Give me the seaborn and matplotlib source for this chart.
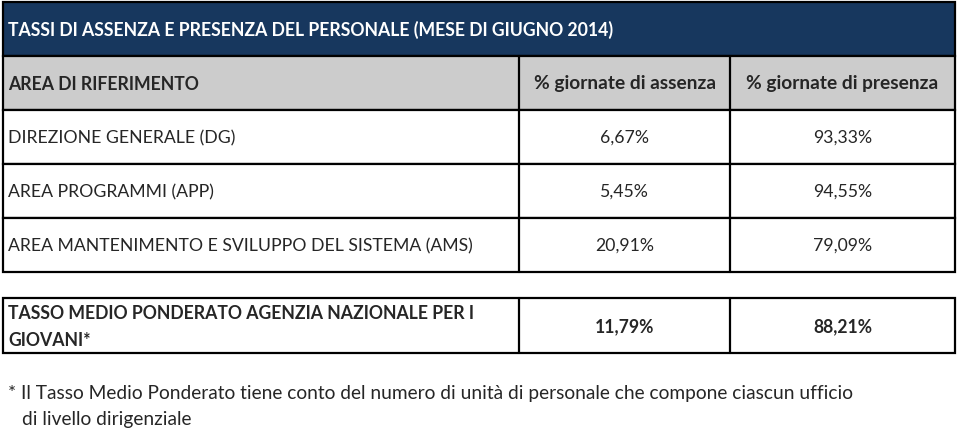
import numpy as np
import pandas as pd
import matplotlib.pyplot as plt
import seaborn as sns
from matplotlib.patches import Rectangle

# table content
title = "TASSI DI ASSENZA E PRESENZA DEL PERSONALE (MESE DI GIUGNO 2014)"
header = ["AREA DI RIFERIMENTO", "% giornate di assenza", "% giornate di presenza"]
areas = [
    "DIREZIONE GENERALE (DG)",
    "AREA PROGRAMMI (APP)",
    "AREA MANTENIMENTO E SVILUPPO DEL SISTEMA (AMS)",
]
assenza = [6.67, 5.45, 20.91]
presenza = [93.33, 94.55, 79.09]
total_label = "TASSO MEDIO PONDERATO AGENZIA NAZIONALE PER I\nGIOVANI*"
total_assenza = 11.79
total_presenza = 88.21
footnote = ["* Il Tasso Medio Ponderato tiene conto del numero di unità di personale che compone ciascun ufficio",
            "di livello dirigenziale"]

df = pd.DataFrame({"area": areas, "assenza": assenza, "presenza": presenza})


def pct(v):
    return f"{v:.2f}%".replace(".", ",")


sns.set_theme(style="white")
plt.rcParams["font.family"] = ["Lato", "DejaVu Sans"]

NAVY = "#17375e"
GREY = "#cccccc"
LW = 1.6
FS = 12.7    # upper-case labels
FS_LOW = 13.8  # mixed-case text

fig = plt.figure(figsize=(9.59, 4.32), dpi=100)
ax = fig.add_axes([0, 0, 1, 1])
ax.set_xlim(0, 959)
ax.set_ylim(432, 0)
ax.axis("off")

x0, x1, x2, x3 = 3, 519, 730, 955
c1 = (x1 + x2) / 2
c2 = (x2 + x3) / 2


def box(xa, ya, xb, yb, fc="white"):
    ax.add_patch(Rectangle((xa, ya), xb - xa, yb - ya, facecolor=fc,
                           edgecolor="black", linewidth=LW))


# title row
box(x0, 2, x3, 56, NAVY)
ax.text(8, 30, title, color="white", fontsize=FS, fontweight="bold", va="center")

# header row
box(x0, 56, x3, 110, GREY)
ax.plot([x1, x1], [56, 110], color="black", lw=LW)
ax.plot([x2, x2], [56, 110], color="black", lw=LW)
ax.text(8, 84, header[0], fontsize=FS, fontweight="bold", va="center")
ax.text(c1, 84, header[1], fontsize=FS_LOW, fontweight="bold", va="center", ha="center")
ax.text(c2, 84, header[2], fontsize=FS_LOW, fontweight="bold", va="center", ha="center")

# data rows
row_top = [110, 164, 218]
row_h = 54
for i, row in df.iterrows():
    ya = row_top[i]
    yb = ya + row_h
    box(x0, ya, x3, yb)
    ax.plot([x1, x1], [ya, yb], color="black", lw=LW)
    ax.plot([x2, x2], [ya, yb], color="black", lw=LW)
    ym = (ya + yb) / 2 + 1
    ax.text(8, ym, row["area"], fontsize=FS, va="center")
    ax.text(c1, ym, pct(row["assenza"]), fontsize=FS, va="center", ha="center")
    ax.text(c2, ym, pct(row["presenza"]), fontsize=FS, va="center", ha="center")

# weighted total row
box(x0, 298, x3, 353)
ax.plot([x1, x1], [298, 353], color="black", lw=LW)
ax.plot([x2, x2], [298, 353], color="black", lw=LW)
ax.text(8, 327, total_label, fontsize=FS, fontweight="bold", va="center", linespacing=1.65)
ax.text(c1, 327, pct(total_assenza), fontsize=FS, fontweight="bold", va="center", ha="center")
ax.text(c2, 327, pct(total_presenza), fontsize=FS, fontweight="bold", va="center", ha="center")

# footnote
ax.text(8, 394, footnote[0], fontsize=FS_LOW, va="center")
ax.text(22, 420, footnote[1], fontsize=FS_LOW, va="center")

fig.savefig("out.png", dpi=100, facecolor="white")
